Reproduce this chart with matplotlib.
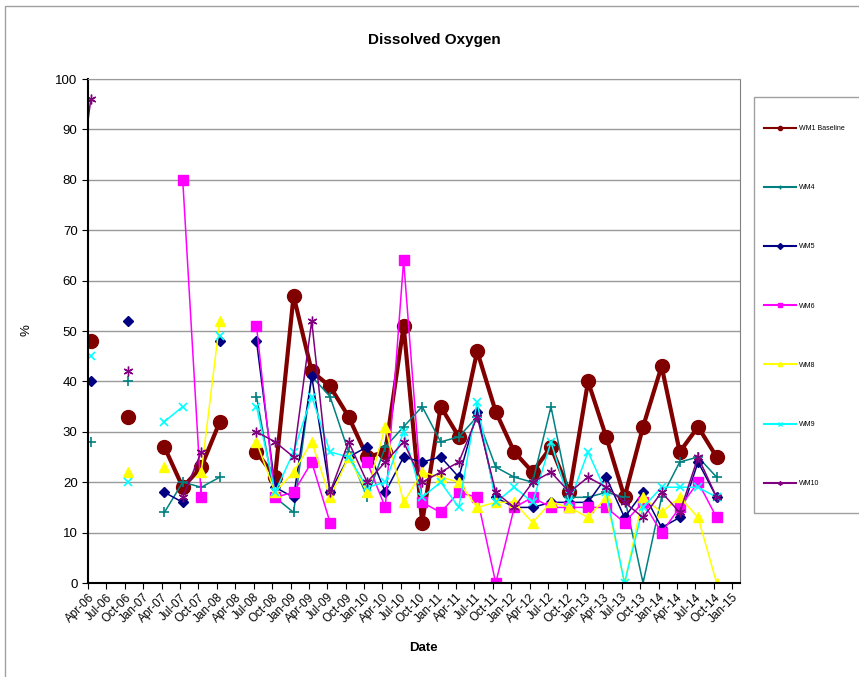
import numpy as np
import pandas as pd
import matplotlib
matplotlib.use("Agg")
import matplotlib.pyplot as plt
import matplotlib.dates as mdates
from matplotlib.lines import Line2D
from matplotlib.patches import Rectangle

plt.rcParams['font.family'] = ['Liberation Sans', 'DejaVu Sans']

nan = np.nan

# sampling months (one sample near the middle of each quarter month)
months = ["2006-01",
          "2006-04", "2006-07", "2006-10", "2007-01", "2007-04", "2007-07", "2007-10",
          "2008-01", "2008-04", "2008-07", "2008-10", "2009-01", "2009-04", "2009-07",
          "2009-10", "2010-01", "2010-04", "2010-07", "2010-10", "2011-01", "2011-04",
          "2011-07", "2011-10", "2012-01", "2012-04", "2012-07", "2012-10", "2013-01",
          "2013-04", "2013-07", "2013-10", "2014-01", "2014-04", "2014-07", "2014-10"]

wm1 = [nan,
       48, nan, 33, nan, 27, 19, 23, 32, nan, 26, 21, 57, 42, 39, 33, 25, 26, 51,
       12, 35, 29, 46, 34, 26, 22, 27, 18, 40, 29, 17, 31, 43, 26, 31, 25]
wm4 = [nan,
       28, nan, 40, nan, 14, 20, 19, 21, nan, 37, 17, 14, 41, 37, 26, 17, 27, 31,
       35, 28, 29, 33, 23, 21, 20, 35, 17, 17, 18, 17, 0, 17, 24, 25, 21]
wm5 = [nan,
       40, nan, 52, nan, 18, 16, nan, 48, nan, 48, 19, 17, 41, 18, 25, 27, 18, 25,
       24, 25, 21, 34, 17, 15, 15, 16, 16, 16, 21, 13, 18, 11, 13, 24, 17]
wm6 = [nan,
       nan, nan, nan, nan, nan, 80, 17, nan, nan, 51, 17, 18, 24, 12, nan, 24, 15, 64,
       16, 14, 18, 17, 0, 15, 17, 15, 15, 15, 15, 12, 16, 10, 15, 20, 13]
wm8 = [nan,
       nan, nan, 22, nan, 23, nan, 22, 52, nan, 28, 18, 22, 28, 17, 25, 18, 31, 16,
       22, 21, 20, 15, 16, 16, 12, 16, 15, 13, 17, 0, 17, 14, 17, 13, 0]
wm9 = [nan,
       45, nan, 20, nan, 32, 35, nan, 49, nan, 35, 18, 26, 37, 26, 25, 19, 20, 30,
       17, 20, 15, 36, 16, 19, 16, 28, 16, 26, 18, 0, 15, 19, 19, 19, 17]
wm10 = [69,
        96, nan, 42, nan, nan, 17, 26, nan, nan, 30, 28, 25, 52, 18, 28, 20, 24, 28,
        20, 22, 24, 33, 18, 15, 20, 22, 18, 21, 19, 16, 13, 18, 14, 25, 17]

names = ["WM1 Baseline", "WM4", "WM5", "WM6", "WM8", "WM9", "WM10"]
colors = ["#800000", "#008080", "#000080", "#FF00FF", "#FFFF00", "#00FFFF", "#800080"]

dates = pd.to_datetime([m + "-15" for m in months])

W, H = 859, 677
fig = plt.figure(figsize=(W / 100, H / 100), dpi=100)
ax = fig.add_axes([88 / W, 1 - 583 / H, 652 / W, 504 / H])

styles = [
    dict(marker='o', ms=10, lw=3.0),
    dict(marker='+', ms=7, lw=1.1, mew=1.2),
    dict(marker='D', ms=5, lw=1.1),
    dict(marker='s', ms=7, lw=1.1),
    dict(marker='^', ms=7, lw=1.1),
    dict(marker='x', ms=6, lw=1.1, mew=1.2),
    dict(marker=(6, 2, 0), ms=7, lw=1.1, mew=1.0),
]
series = [wm1, wm4, wm5, wm6, wm8, wm9, wm10]
for vals, name, c, st in zip(series, names, colors, styles):
    ax.plot(dates, vals, color=c, mfc=c, mec=c, label=name, **st)

ax.set_ylim(0, 100)
ax.set_yticks(range(0, 101, 10))
ax.set_xlim(pd.Timestamp("2006-04-01"), pd.Timestamp("2015-02-08"))
ax.xaxis.set_major_locator(mdates.MonthLocator(bymonth=[1, 4, 7, 10]))
ax.xaxis.set_major_formatter(mdates.DateFormatter('%b-%y'))
plt.setp(ax.get_xticklabels(), rotation=45, ha='right', rotation_mode='anchor')
ax.tick_params(axis='x', labelsize=8.5, length=4, direction='out', pad=2)
ax.tick_params(axis='y', labelsize=9.5, length=4, direction='out')

ax.grid(axis='y', color='#9a9a9a', lw=1.0)
ax.set_axisbelow(True)
ax.spines['left'].set_linewidth(1.5)
ax.spines['bottom'].set_linewidth(1.5)
ax.spines['top'].set_color('#9a9a9a')
ax.spines['right'].set_color('#808080')

fig.text(434 / W, 1 - 40 / H, "Dissolved Oxygen", ha='center', va='center',
         fontsize=11, fontweight='bold')
fig.text(423 / W, 1 - 648 / H, "Date", ha='center', va='center',
         fontsize=9.5, fontweight='bold')
fig.text(27 / W, 1 - 330 / H, "%", ha='center', va='center', rotation=90, fontsize=9.5)

# outer chart border and legend box
fig.patches.append(Rectangle((5 / W, -0.1), 1.2, 1 - 6 / H + 0.1, transform=fig.transFigure,
                             fill=False, ec='#a0a0a0', lw=1.0))
fig.patches.append(Rectangle((754 / W, 1 - 513 / H), 0.3, (513 - 97) / H,
                             transform=fig.transFigure, fill=False, ec='#a0a0a0', lw=1.0))

handles = [Line2D([], [], color=c, lw=1.5, marker=st['marker'], ms=3, mfc=c, mec=c)
           for c, st in zip(colors, styles)]
fig.legend(handles, names, loc='upper left', bbox_to_anchor=(764 / W, 1 - 125 / H),
           frameon=False, fontsize=5, borderpad=0, borderaxespad=0,
           handlelength=4.6, handletextpad=0.5, labelspacing=7.52)

fig.savefig("out.png", dpi=100)
